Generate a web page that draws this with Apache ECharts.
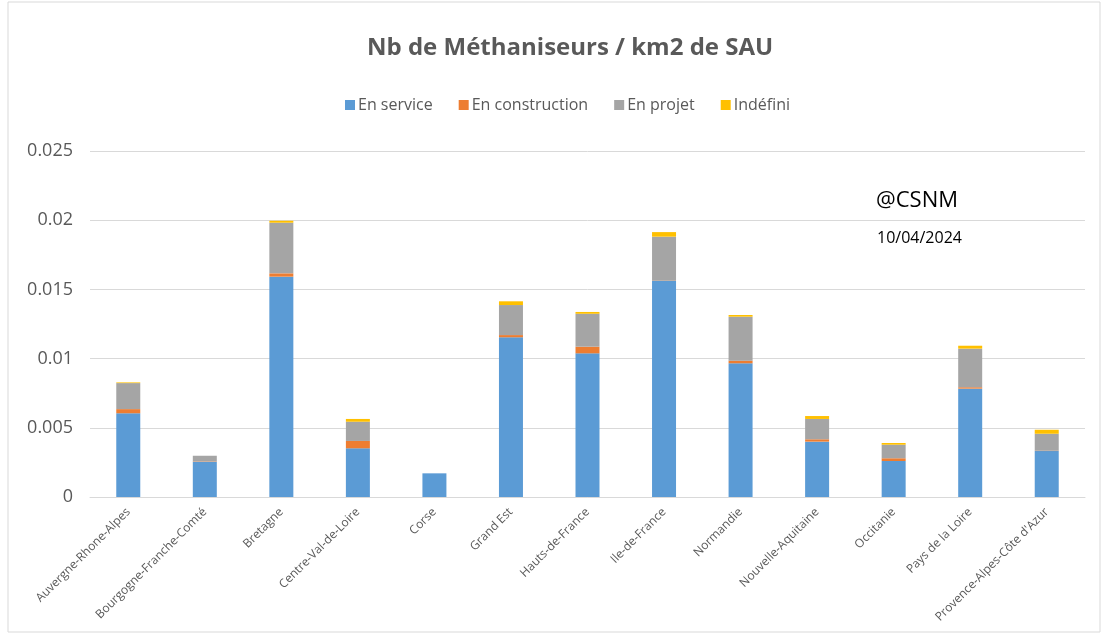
<!DOCTYPE html>
<html>
<head>
<meta charset="utf-8">
<script src="https://cdn.jsdelivr.net/npm/echarts@6/dist/echarts.min.js"></script>
<style>
  html, body { margin: 0; padding: 0; background: #fff; }
  #chart { width: 1102px; height: 637px; }
</style>
</head>
<body>
<div id="chart"></div>
<script>
var regions = ['Auvergne-Rhone-Alpes', 'Bourgogne-Franche-Comté', 'Bretagne', 'Centre-Val-de-Loire', 'Corse',
	'Grand Est', 'Hauts-de-France', 'Ile-de-France', 'Normandie', 'Nouvelle-Aquitaine', 'Occitanie',
	'Pays de la Loire', 'Provence-Alpes-Côte d\'Azur'];

var enService      = [0.00605, 0.00255, 0.01592, 0.00352, 0.00171, 0.01154, 0.01038, 0.01561, 0.00966, 0.00400, 0.00260, 0.00783, 0.00332];
var enConstruction = [0.00030, 0.00003, 0.00024, 0.00053, 0,       0.00016, 0.00048, 0.00002, 0.00019, 0.00017, 0.00020, 0.00010, 0.00002];
var enProjet       = [0.00188, 0.00040, 0.00366, 0.00139, 0,       0.00217, 0.00238, 0.00318, 0.00318, 0.00147, 0.00098, 0.00279, 0.00123];
var indefini       = [0.00005, 0,       0.00014, 0.00020, 0,       0.00027, 0.00013, 0.00033, 0.00012, 0.00021, 0.00012, 0.00021, 0.00029];

var yTicks = [0, 0.005, 0.01, 0.015, 0.02, 0.025];

var font = "'Open Sans', 'Liberation Sans', sans-serif";

function mkSeries(name, data, color) {
	return {
		name: name,
		type: 'bar',
		stack: 'total',
		barWidth: 24,
		itemStyle: { color: color },
		data: data
	};
}

var option = {
	animation: false,
	textStyle: { fontFamily: font },
	title: {
		text: 'Nb de Méthaniseurs / km2 de SAU',
		left: 362,
		top: 31,
		textStyle: { fontSize: 24, fontWeight: 'bold', color: '#595959', fontFamily: font }
	},
	legend: {
		top: 92,
		left: 340,
		itemWidth: 10,
		itemHeight: 10,
		itemGap: 26,
		icon: 'rect',
		textStyle: { fontSize: 16, color: '#595959', padding: [0, 0, 0, -2] },
		data: ['En service', 'En construction', 'En projet', 'Indéfini']
	},
	graphic: [
		{
			type: 'rect',
			shape: { x: 8, y: 2, width: 1092, height: 630 },
			style: { fill: 'none', stroke: '#d9d9d9', lineWidth: 1 }
		},
		{
			type: 'text', left: 876, top: 190,
			style: { text: '@CSNM', fontSize: 22, fill: '#000', fontFamily: font }
		},
		{
			type: 'text', left: 877, top: 230,
			style: { text: '10/04/2024', fontSize: 16, fill: '#000', fontFamily: font }
		}
	],
	grid: { left: 90, right: 17, top: 151, bottom: 140 },
	xAxis: {
		type: 'category',
		data: regions,
		axisLine: { lineStyle: { color: '#d9d9d9', width: 1 } },
		axisTick: { show: false },
		axisLabel: { rotate: 45, fontSize: 12, color: '#595959', interval: 0, margin: 13 }
	},
	yAxis: {
		type: 'value',
		min: yTicks[0],
		max: yTicks[yTicks.length - 1],
		interval: 0.005,
		axisLine: { show: false },
		axisTick: { show: false },
		splitLine: { lineStyle: { color: '#d9d9d9', width: 1 } },
		axisLabel: {
			fontSize: 18, color: '#595959', margin: 17,
			formatter: function (v) { return String(+v.toFixed(3)); }
		}
	},
	series: [
		mkSeries('En service', enService, '#5b9bd5'),
		mkSeries('En construction', enConstruction, '#ed7d31'),
		mkSeries('En projet', enProjet, '#a5a5a5'),
		mkSeries('Indéfini', indefini, '#ffc000')
	]
};

var chart = echarts.init(document.getElementById('chart'));
chart.setOption(option);
</script>
</body>
</html>
